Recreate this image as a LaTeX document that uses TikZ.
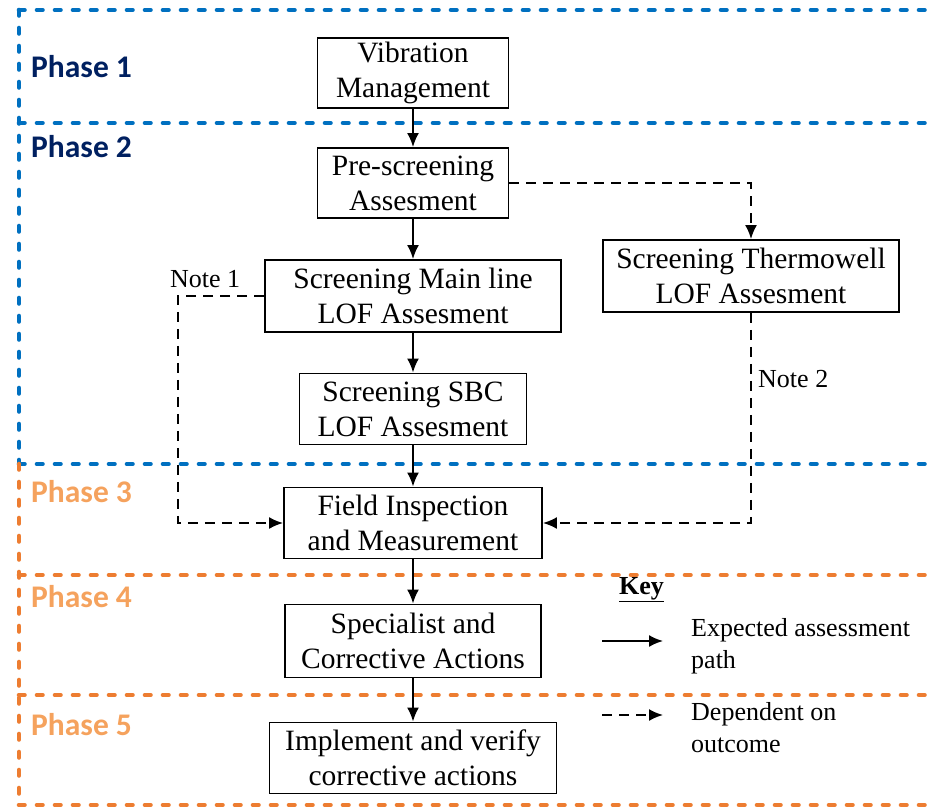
\documentclass[tikz,border=0pt]{standalone}
\usepackage{fontspec}
\setmainfont{Liberation Serif}
\newfontfamily\phasefont{Carlito}
\usetikzlibrary{arrows.meta}
\definecolor{pblue}{HTML}{0070C0}
\definecolor{porange}{HTML}{ED7D31}
\definecolor{navy}{HTML}{002060}
\definecolor{lorange}{HTML}{F5A25D}
\begin{document}
\begin{tikzpicture}[x=1pt,y=-1pt,
  box/.style={draw, line width=1.9pt, align=center, inner sep=0pt,
    font=\fontsize{29.5}{35}\selectfont},
  flow/.style={line width=1.9pt, -{Latex[length=14pt,width=12pt]}},
  dep/.style={flow, dash pattern=on 10pt off 7pt},
  border/.style={line width=4.6pt, line cap=round, dash pattern=on 5.5pt off 12.5pt},
  bline/.style={border, pblue},
  oline/.style={border, porange},
  phaseA/.style={anchor=base west, inner sep=0pt, text=navy,
    font=\phasefont\bfseries\fontsize{31.5}{36}\selectfont},
  phaseB/.style={phaseA, text=lorange},
  small/.style={anchor=base west, inner sep=0pt, font=\fontsize{26}{31}\selectfont}
]
\useasboundingbox (0,0) rectangle (931,809);

% phase borders
\draw[bline] (19,10) -- (931,10);
\draw[bline] (19,123) -- (931,123);
\draw[bline] (19,464) -- (931,464);
\draw[bline] (19,10) -- (19,464);
\draw[oline] (19,464) -- (19,805);
\draw[oline] (19,575) -- (931,575);
\draw[oline] (19,695) -- (931,695);
\draw[oline] (19,805) -- (931,805);

% phase labels
\node[phaseA] (p1) at (31,77) {Phase 1};
\node[phaseA] (p2) at (31,157) {Phase 2};
\node[phaseB] (p3) at (31,502) {Phase 3};
\node[phaseB] (p4) at (31,607) {Phase 4};
\node[phaseB] (p5) at (31,735) {Phase 5};

% boxes
\node[box, minimum width=191pt, minimum height=70pt] (b1) at (413,73) {Vibration\\Management};
\node[box, minimum width=191pt, minimum height=70pt] (b2) at (413,183) {Pre-screening\\Assesment};
\node[box, minimum width=296pt, minimum height=72pt] (b3) at (413,296) {Screening Main line\\LOF Assesment};
\node[box, minimum width=227pt, minimum height=71pt] (b4) at (413,409) {Screening SBC\\LOF Assesment};
\node[box, minimum width=296pt, minimum height=72pt] (b5) at (751,276) {Screening Thermowell\\LOF Assesment};
\node[box, minimum width=258pt, minimum height=71pt] (b6) at (413,523) {Field Inspection\\and Measurement};
\node[box, minimum width=256pt, minimum height=73pt] (b7) at (413,641) {Specialist and\\Corrective Actions};
\node[box, minimum width=287pt, minimum height=71pt] (b8) at (413,758) {Implement and verify\\corrective actions};

% solid flow
\draw[flow] (b1) -- (b2);
\draw[flow] (b2) -- (b3);
\draw[flow] (b3) -- (b4);
\draw[flow] (b4) -- (b6);
\draw[flow] (b6) -- (b7);
\draw[flow] (b7) -- (b8);

% dependent flows
\coordinate (n1) at (178,296);
\draw[dep] (b2.east) -| (b5.north);
\draw[dep] (b3.west) -- (n1) |- (b6.west);
\draw[dep] (b5.south) |- (b6.east);
\node[small] (note1) at (170,287) {Note 1};
\node[small] (note2) at (758,387) {Note 2};

% key
\node[small] (key) at (619,594) {\underline{\textbf{Key}}};
\coordinate (k1s) at (602,641);
\coordinate (k1e) at (663,641);
\coordinate (k2s) at (602,715);
\coordinate (k2e) at (663,715);
\draw[flow] (k1s) -- (k1e);
\draw[dep] (k2s) -- (k2e);
\node[small] (t1) at (691,636) {Expected assessment};
\node[small] (t2) at (691,668) {path};
\node[small] (t3) at (691,720) {Dependent on};
\node[small] (t4) at (691,752) {outcome};
\end{tikzpicture}
\end{document}
